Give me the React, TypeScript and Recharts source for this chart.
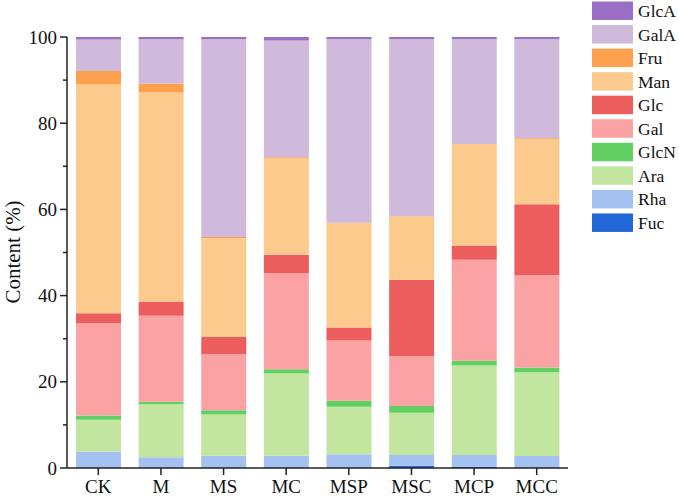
import React from 'react';
import { BarChart, Bar, XAxis, YAxis } from 'recharts';

const categories = ['CK', 'M', 'MS', 'MC', 'MSP', 'MSC', 'MCP', 'MCC'];
const seriesNames = ['Fuc', 'Rha', 'Ara', 'GlcN', 'Gal', 'Glc', 'Man', 'Fru', 'GalA', 'GlcA'];
const Fuc = [0.1, 0.1, 0.1, 0.1, 0.1, 0.5, 0.3, 0.1];
const Rha = [3.75, 2.4, 2.75, 2.75, 3.1, 2.5, 2.7, 2.7];
const Ara = [7.35, 12.3, 9.55, 19.05, 11.0, 9.8, 20.8, 19.4];
const GlcN = [1.0, 0.6, 1.0, 1.0, 1.4, 1.6, 1.1, 1.1];
const Gal = [21.4, 19.9, 13.0, 22.3, 14.0, 11.5, 23.4, 21.4];
const Glc = [2.3, 3.2, 4.0, 4.3, 3.0, 17.8, 3.3, 16.5];
const Man = [53.1, 48.6, 22.9, 22.3, 24.2, 14.6, 23.5, 15.0];
const Fru = [3.1, 2.1, 0.3, 0.3, 0.1, 0.1, 0.1, 0.3];
const GalA = [7.3, 10.3, 45.9, 27.1, 42.6, 41.1, 24.3, 23.0];
const GlcA = [0.6, 0.5, 0.5, 0.8, 0.5, 0.5, 0.5, 0.5];
const yTicks = [0, 10, 20, 30, 40, 50, 60, 70, 80, 90, 100];

const seriesValues: Record<string, number[]> = { Fuc, Rha, Ara, GlcN, Gal, Glc, Man, Fru, GalA, GlcA };
const colors: Record<string, string> = {
  Fuc: '#2468d8',
  Rha: '#a4c2f1',
  Ara: '#c2e6a0',
  GlcN: '#62cf62',
  Gal: '#fba3a4',
  Glc: '#ec5e5e',
  Man: '#fdca8e',
  Fru: '#fda14f',
  GalA: '#cfbadc',
  GlcA: '#9b6fc6',
};

const data = categories.map((c, i) => {
  const row: Record<string, number | string> = { name: c };
  seriesNames.forEach((s) => {
    row[s] = seriesValues[s][i];
  });
  return row;
});

const FONT = '"Liberation Serif", "Times New Roman", serif';

const YTick = (props: any) => {
  const { x, y, payload } = props;
  const major = payload.value % 20 === 0;
  return (
    <g>
      <line x1={x - (major ? 7 : 4)} x2={x} y1={y} y2={y} stroke="#222" strokeWidth={1.5} />
      {major && (
        <text x={x - 10} y={y} textAnchor="end" dominantBaseline="central" fontSize={19} fontFamily={FONT} fill="#111">
          {payload.value}
        </text>
      )}
    </g>
  );
};

const XTick = (props: any) => {
  const { x, y, payload } = props;
  return (
    <g>
      <line x1={x} x2={x} y1={y} y2={y + 7} stroke="#222" strokeWidth={1.5} />
      <text x={x} y={y + 25} textAnchor="middle" fontSize={19} fontFamily={FONT} fill="#111">
        {payload.value}
      </text>
    </g>
  );
};

const LegendBlock = () => {
  const order = [...seriesNames].reverse();
  return (
    <svg width={90} height={240} style={{ position: 'absolute', left: 590, top: 0 }}>
      {order.map((s, i) => (
        <g key={s}>
          <rect x={2} y={1.5 + i * 23.55} width={41} height={18.5} fill={colors[s]} />
          <text x={48} y={11 + i * 23.55} dominantBaseline="central" fontSize={17.5} fontFamily={FONT} fill="#111">
            {s}
          </text>
        </g>
      ))}
    </svg>
  );
};

export default function App() {
  return (
    <div style={{ position: 'absolute', left: 0, top: 0, width: 679, height: 497, background: '#fff' }}>
      <BarChart
        width={679}
        height={497}
        data={data}
        margin={{ top: 37, right: 111, bottom: 1, left: 20 }}
        barSize={45}
      >
        <XAxis
          dataKey="name"
          height={28}
          tickLine={false}
          tickSize={0}
          tickMargin={0}
          tick={<XTick />}
          axisLine={{ stroke: '#222', strokeWidth: 1.5 }}
          interval={0}
        />
        <YAxis
          width={47}
          domain={[0, 100]}
          ticks={yTicks}
          interval={0}
          tickLine={false}
          tickSize={0}
          tickMargin={0}
          tick={<YTick />}
          axisLine={{ stroke: '#222', strokeWidth: 1.5 }}
          label={{
            content: () => (
              <text
                x={13}
                y={252}
                transform="rotate(-90 13 252)"
                textAnchor="middle"
                dominantBaseline="central"
                fontSize={21}
                fontFamily={FONT}
                fill="#111"
              >
                Content (%)
              </text>
            ),
          }}
        />
        {seriesNames.map((s) => (
          <Bar key={s} dataKey={s} stackId="a" fill={colors[s]} isAnimationActive={false} />
        ))}
      </BarChart>
      <LegendBlock />
    </div>
  );
}
